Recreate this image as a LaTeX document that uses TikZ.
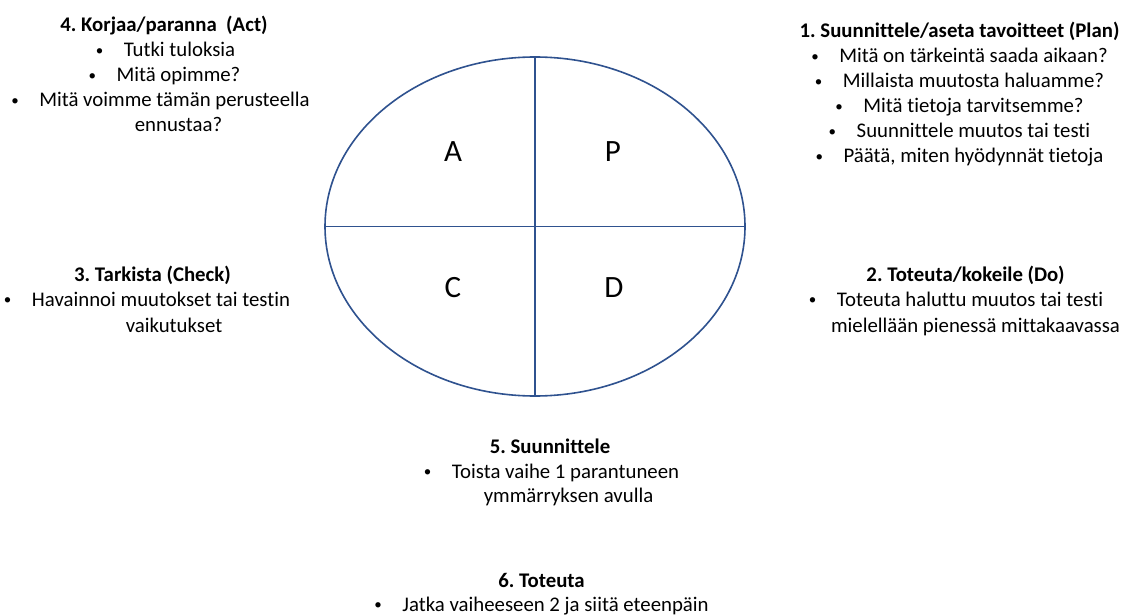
\documentclass[tikz,border=0pt]{standalone}
\usepackage{fontspec}
\setmainfont{Carlito}[Ligatures={NoCommon}]
\usetikzlibrary{shapes.geometric}
\definecolor{pdcaline}{HTML}{2F528F}
% small bullet followed by a fixed tab
\newcommand\blt{\makebox[29pt][l]{\hspace{1pt}\raisebox{1.2pt}{\fontsize{15}{15}\selectfont\textbullet}}}
\frenchspacing

\begin{document}
\begin{tikzpicture}[x=1pt,y=-1pt,
  body/.style={anchor=base, inner sep=0pt, font=\fontsize{20.8}{25}\selectfont},
  head/.style={anchor=base, inner sep=0pt, font=\bfseries\fontsize{20.8}{25}\selectfont},
  quad/.style={anchor=base, inner sep=0pt, font=\fontsize{31}{31}\selectfont},
  wheel/.style={draw=pdcaline, line width=1.6pt, ellipse, inner sep=0pt,
                minimum width=420pt, minimum height=339pt},
  axis/.style={draw=pdcaline, line width=1.6pt}]
\useasboundingbox (0,0) rectangle (1125,615);
\fill[white] (0,0) rectangle (1125,615);

% PDCA wheel
\node[wheel] (cycle) at (535,226.5) {};
\draw[axis] (cycle.north) -- (cycle.south);
\draw[axis] (cycle.west) -- (cycle.east);
\node[quad] (qa) at (453,162) {A};
\node[quad] (qp) at (613,162) {P};
\node[quad] (qc) at (453,297) {C};
\node[quad] (qd) at (614,297) {D};

% 4. Act
\node[head] (act) at (164,32) {4. Korjaa/paranna\ \ (Act)};
\node[body] (act1) at (165,57) {\blt Tutki tuloksia};
\node[body] (act2) at (164,82) {\blt Mitä opimme?};
\node[body] (act3) at (160,107) {\blt Mitä voimme tämän perusteella};
\node[body] (act3b) at (178.5,132) {ennustaa?};

% 1. Plan
\node[head] (plan) at (959.5,38) {1. Suunnittele/aseta tavoitteet (Plan)};
\node[body] (plan1) at (959,63) {\blt Mitä on tärkeintä saada aikaan?};
\node[body] (plan2) at (959,88) {\blt Millaista muutosta haluamme?};
\node[body] (plan3) at (959,113) {\blt Mitä tietoja tarvitsemme?};
\node[body] (plan4) at (959,138) {\blt Suunnittele muutos tai testi};
\node[body] (plan5) at (959,163) {\blt Päätä, miten hyödynnät tietoja};

% 3. Check
\node[head] (check) at (152.5,281) {3. Tarkista (Check)};
\node[body] (check1) at (146.5,306) {\blt Havainnoi muutokset tai testin};
\node[body] (check1b) at (174,332) {vaikutukset};

% 2. Do
\node[head] (do) at (965.5,281) {2. Toteuta/kokeile (Do)};
\node[body] (do1) at (955.5,306) {\blt Toteuta haluttu muutos tai testi};
\node[body] (do1b) at (975.5,332) {mielellään pienessä mittakaavassa};

% 5. Plan again
\node[head] (plan2nd) at (550,453) {5. Suunnittele};
\node[body] (plan2nd1) at (551,478) {\blt Toista vaihe 1 parantuneen};
\node[body] (plan2nd1b) at (568.5,502) {ymmärryksen avulla};

% 6. Do again
\node[head] (do2nd) at (541.5,587) {6. Toteuta};
\node[body] (do2nd1) at (541,611) {\blt Jatka vaiheeseen 2 ja siitä eteenpäin};
\end{tikzpicture}
\end{document}
